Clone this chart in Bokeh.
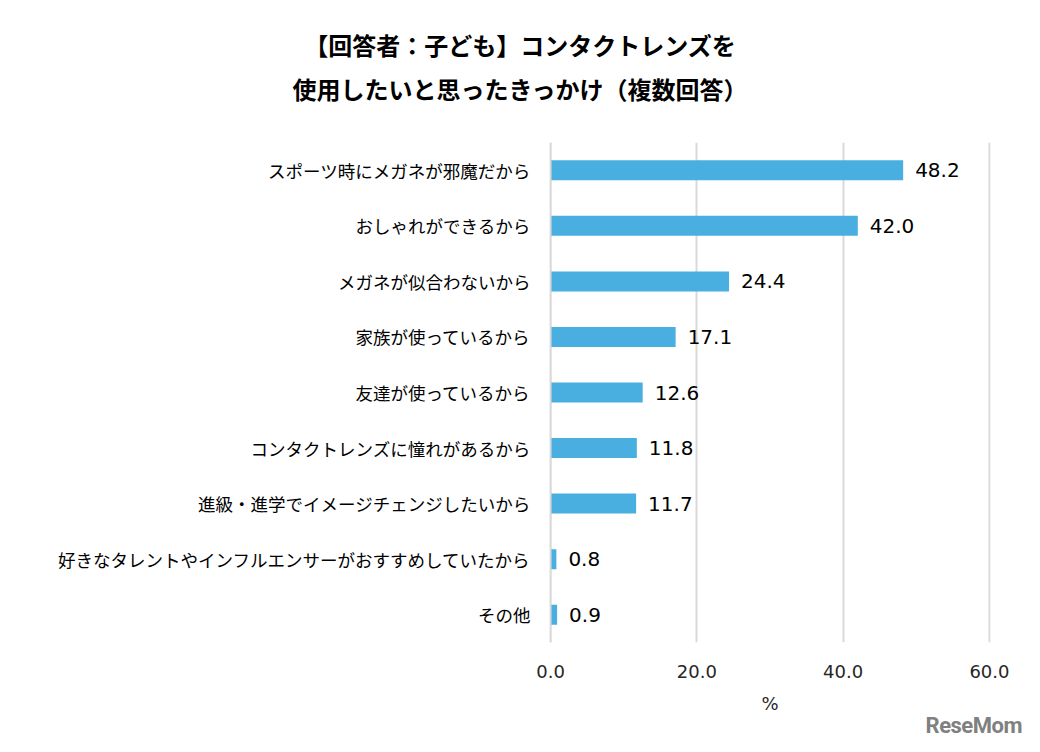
from bokeh.plotting import figure
from bokeh.models import (ColumnDataSource, FactorRange, Range1d, LabelSet, FixedTicker,
                          NumeralTickFormatter, Div, CategoricalAxis)
from bokeh.layouts import column
from bokeh.core.properties import value
from bokeh.embed import file_html
from bokeh.resources import INLINE

categories = [
    "スポーツ時にメガネが邪魔だから",
    "おしゃれができるから",
    "メガネが似合わないから",
    "家族が使っているから",
    "友達が使っているから",
    "コンタクトレンズに憧れがあるから",
    "進級・進学でイメージチェンジしたいから",
    "好きなタレントやインフルエンサーがおすすめしていたから",
    "その他",
]
values = [48.2, 42.0, 24.4, 17.1, 12.6, 11.8, 11.7, 0.8, 0.9]
x_ticks = [0, 20, 40, 60]
title_lines = ["【回答者：子ども】コンタクトレンズを", "使用したいと思ったきっかけ（複数回答）"]
logo_text = "ReseMom"

JP = "Noto Sans CJK JP"
NUM = "DejaVu Sans"

title_div = Div(
    text="<br>".join(title_lines), width=1024, height=118, margin=0,
    styles={"text-align": "center", "font-family": f"'{JP}'", "font-weight": "bold",
            "font-size": "24px", "line-height": "44px", "padding-top": "23px",
            "padding-left": "16px", "box-sizing": "border-box", "color": "#000000",
            "background-color": "white"},
)

src = ColumnDataSource(dict(cat=categories, val=values, lbl=[f"{v:.1f}" for v in values]))

p = figure(width=1024, height=598, y_range=FactorRange(*reversed(categories)),
           x_range=Range1d(-0.14, 60.14), output_backend="svg", toolbar_location=None,
           min_border_left=549, min_border_right=34, min_border_top=24, min_border_bottom=71)
p.margin = 0
p.outline_line_color = None
p.background_fill_color = "white"
p.border_fill_color = "white"

# zero line drawn by an unlabeled axis fixed at x = 0
zero_axis = CategoricalAxis(fixed_location=x_ticks[0], axis_line_color="#d9d9d9", axis_line_width=2,
                            major_tick_line_color=None, minor_tick_line_color=None,
                            major_label_text_color=None, major_label_text_font_size="1px",
                            major_label_standoff=0)
p.add_layout(zero_axis, "left")

p.hbar(y="cat", right="val", left=0, height=0.36, source=src, color="#48AFE0", line_color=None)

labels = LabelSet(x="val", y="cat", text="lbl", source=src, x_offset=12,
                  text_baseline="middle", text_font=value(NUM), text_font_size=value("20px"),
                  text_color="#000000")
p.add_layout(labels)

xaxis = p.xaxis[0]
xaxis.ticker = FixedTicker(ticks=x_ticks)
xaxis.formatter = NumeralTickFormatter(format="0.0")
xaxis.axis_line_color = None
xaxis.major_tick_line_color = None
xaxis.minor_tick_line_color = None
xaxis.major_label_text_font = NUM
xaxis.major_label_text_font_size = "18px"
xaxis.major_label_text_color = "#262626"
xaxis.major_label_standoff = 16
xaxis.axis_label = "%"
xaxis.axis_label_text_font = NUM
xaxis.axis_label_text_font_style = "normal"
xaxis.axis_label_text_font_size = "18px"
xaxis.axis_label_text_color = "#262626"
xaxis.axis_label_standoff = 12

yaxis = p.yaxis[0]
yaxis.axis_line_color = None
yaxis.major_tick_line_color = None
yaxis.minor_tick_line_color = None
yaxis.major_label_text_font = JP
yaxis.major_label_text_font_size = "17.5px"
yaxis.major_label_text_color = "#000000"
yaxis.major_label_standoff = 13

p.xgrid.grid_line_color = "#d9d9d9"
p.xgrid.grid_line_width = 2
p.ygrid.grid_line_color = None

logo_div = Div(
    text=logo_text, width=1024, height=20, margin=0,
    styles={"text-align": "right", "font-family": "Roboto", "font-weight": "bold",
            "font-size": "22px", "line-height": "20px", "padding-right": "2px",
            "letter-spacing": "-0.5px",
            "box-sizing": "border-box", "color": "#808080", "background-color": "white"},
)

layout = column(title_div, p, logo_div, spacing=0)
open("out.html", "w").write(file_html(layout, INLINE))
